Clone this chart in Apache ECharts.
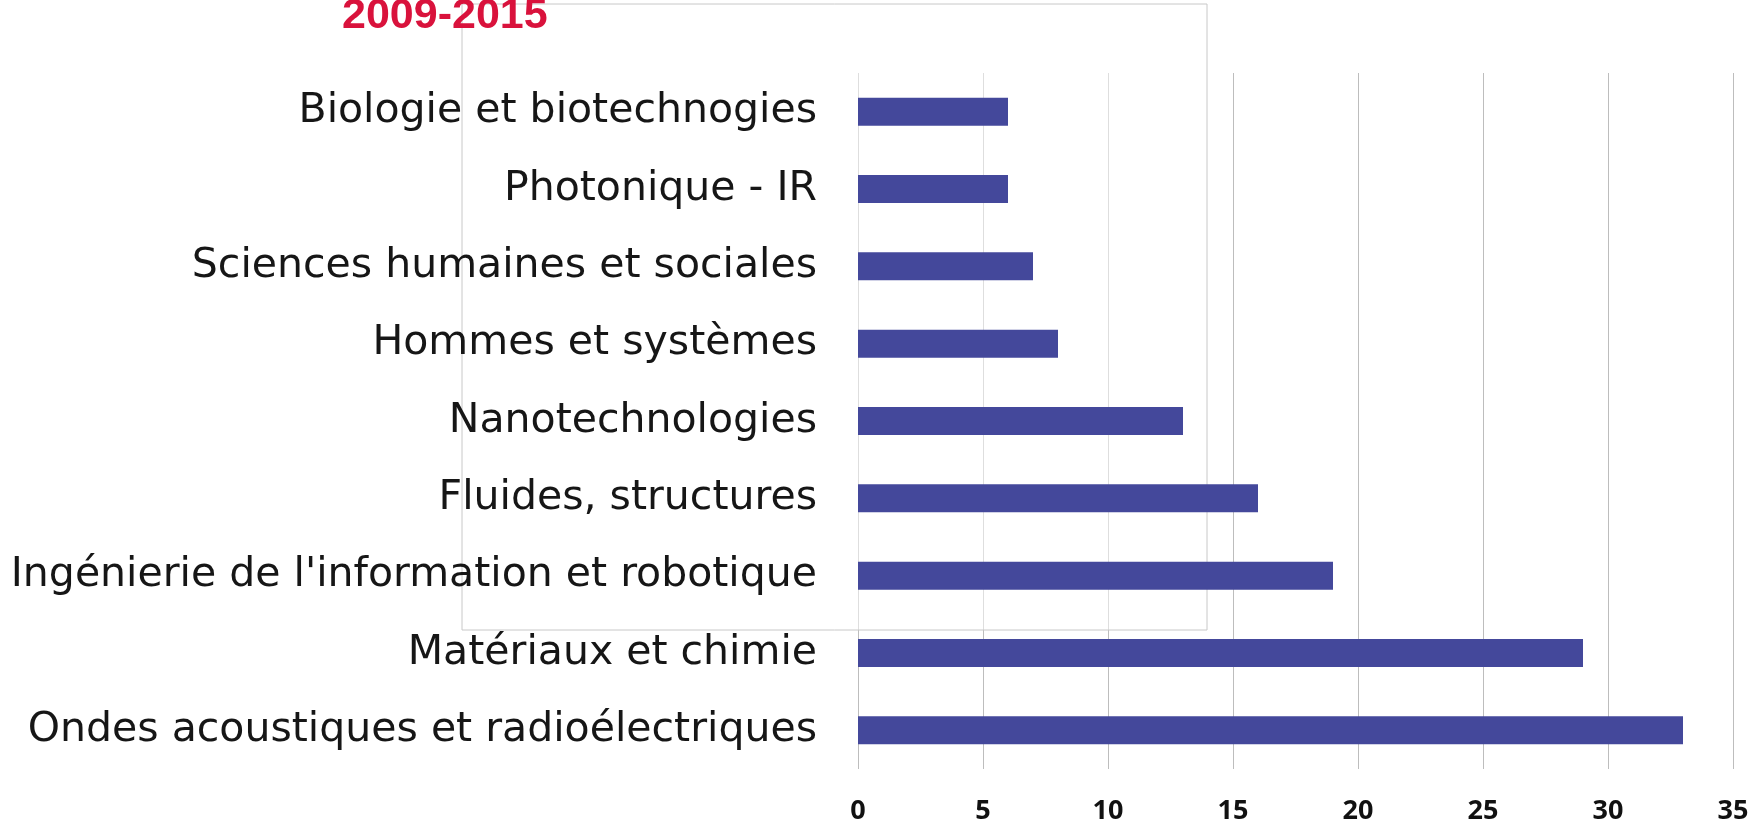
<!DOCTYPE html>
<html>
<head>
<meta charset="utf-8">
<script src="https://cdn.jsdelivr.net/npm/echarts@6/dist/echarts.min.js"></script>
<style>
  html, body { margin: 0; padding: 0; background: #fff; }
  #chart { width: 1759px; height: 826px; }
</style>
</head>
<body>
<div id="chart"></div>
<script>
// data, top to bottom as in the picture
const categories = [
  'Biologie et biotechnogies',
  'Photonique - IR',
  'Sciences humaines et sociales',
  'Hommes et systèmes',
  'Nanotechnologies',
  'Fluides, structures',
  "Ingénierie de l'information et robotique",
  'Matériaux et chimie',
  'Ondes acoustiques et radioélectriques'
]
const counts = [6, 6, 7, 8, 13, 16, 19, 29, 33]
const xTicks = [0, 5, 10, 15, 20, 25, 30, 35]
const periodLabel = '2009-2015'

const C = {
  bar: '#44489b',
  grid: '#bdbdbd',
  text: '#161616',
  red: '#d9123c'
}

const chart = echarts.init(document.getElementById('chart'))

chart.setOption({
  backgroundColor: '#ffffff',
  animation: false,
  title: {
    text: periodLabel,
    left: 342,
    top: -5,
    padding: 0,
    textStyle: {
      color: C.red,
      fontFamily: 'Liberation Sans',
      fontWeight: 'bold',
      fontSize: 43,
      lineHeight: 43
    }
  },
  // faint ghost frame sitting over the upper-left of the plot
  graphic: [
    {
      type: 'rect',
      z: 1,
      shape: { x: 462, y: 4, width: 745, height: 626 },
      style: { fill: 'rgba(255,255,255,0.5)', stroke: '#c8c8c8', lineWidth: 1 }
    }
  ],
  grid: { left: 858, right: 26, top: 73, bottom: 57 },
  xAxis: {
    type: 'value',
    min: xTicks[0],
    max: xTicks[xTicks.length - 1],
    interval: 5,
    axisLine: { show: false },
    axisTick: { show: false },
    axisLabel: {
      color: '#111',
      fontFamily: 'Open Sans',
      fontWeight: 'bold',
      fontSize: 27,
      lineHeight: 27,
      margin: 29
    },
    splitLine: { lineStyle: { color: C.grid, width: 1 } }
  },
  yAxis: {
    type: 'category',
    data: categories,
    inverse: true,
    z: 5,
    axisLine: { show: false },
    axisTick: { show: false },
    axisLabel: {
      color: C.text,
      fontFamily: 'DejaVu Sans',
      fontSize: 41,
      margin: 41
    },
    splitLine: { show: false }
  },
  series: [
    {
      type: 'bar',
      data: counts,
      barWidth: 28,
      itemStyle: { color: C.bar },
      z: 2
    }
  ]
})
</script>
</body>
</html>
